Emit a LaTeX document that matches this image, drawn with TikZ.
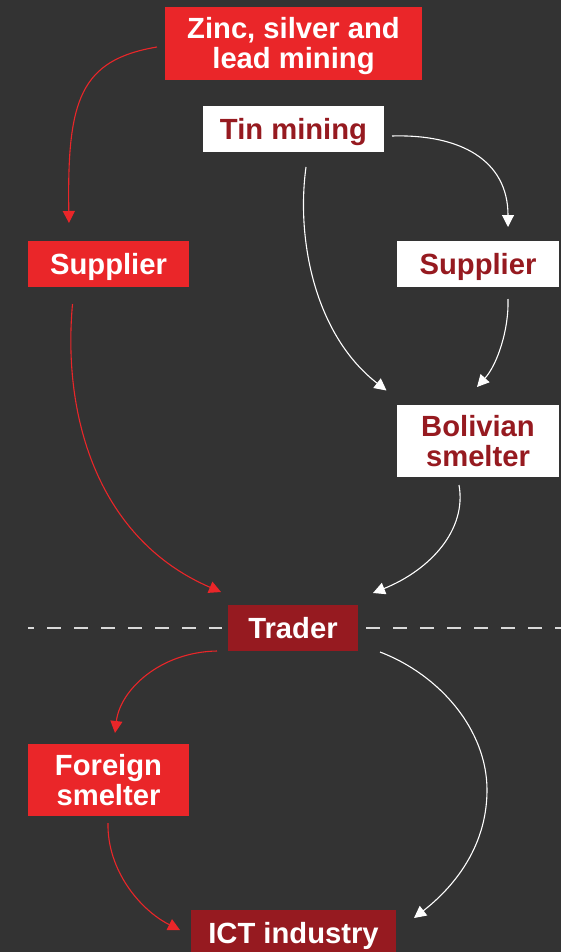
\documentclass[tikz,border=0pt]{standalone}
\usepackage{fontspec}
\setmainfont{Liberation Sans}
\usetikzlibrary{arrows.meta,calc}
\definecolor{bg}{RGB}{51,51,51}
\definecolor{bred}{RGB}{234,38,41}
\definecolor{dred}{RGB}{150,26,32}
\begin{document}
\begin{tikzpicture}[x=1pt,y=-1pt,
  box/.style={inner sep=0pt,outer sep=0pt,align=center,
    font=\bfseries\fontsize{29.2}{29.5}\selectfont,
    text height=21pt,text depth=0pt},
  twol/.style={text height=50.5pt},
  redbox/.style={box,fill=bred,text=white},
  darkbox/.style={box,fill=dred,text=white},
  whitebox/.style={box,fill=white,text=dred},
  conn/.style={line width=1.1pt,-{Triangle[length=12pt,width=12pt]}},
  redconn/.style={conn,draw=bred},
  whconn/.style={conn,draw=white},
]
\useasboundingbox (0,0) rectangle (560,952);
\fill[bg] (-10,-10) rectangle (570,962);

\node[redbox,twol,minimum width=257pt,minimum height=73pt] (zinc) at (293.5,43.5)
  {\begin{tabular}[b]{@{}c@{}}Zinc, silver and\\lead mining\end{tabular}};
\node[whitebox,minimum width=181pt,minimum height=46pt] (tin) at (293.5,129) {Tin mining};
\node[redbox,minimum width=161pt,minimum height=46pt] (sup1) at (108.5,264) {Supplier};
\node[whitebox,minimum width=162pt,minimum height=46pt] (sup2) at (478,264) {Supplier};
\node[whitebox,twol,minimum width=162pt,minimum height=72pt] (bol) at (478,441)
  {\begin{tabular}[b]{@{}c@{}}Bolivian\\smelter\end{tabular}};
\node[darkbox,minimum width=130pt,minimum height=46pt] (trader) at (293,628) {Trader};
\node[redbox,twol,minimum width=161pt,minimum height=72pt] (foreign) at (108.5,780)
  {\begin{tabular}[b]{@{}c@{}}Foreign\\smelter\end{tabular}};
\node[darkbox,minimum width=205pt,minimum height=46pt] (ict) at (293.5,933) {ICT industry};

% dashed border line
\coordinate (dl) at (28,628);
\coordinate (dr) at (562,628);
\draw[white!85!black,line width=1.1pt,dash pattern=on 14pt off 13pt,dash phase=8pt]
  (dl) -- ($(trader.west)+(-6,0)$);
\draw[white!85!black,line width=1.1pt,dash pattern=on 14pt off 13pt]
  ($(trader.east)+(8,0)$) -- (dr);

% connectors
\draw[redconn] ($(zinc.west)+(-8,3.5)$) .. controls (80,60) and (67,100) .. ($(sup1.north)+(-39.5,-18)$);
\draw[whconn] ($(tin.east)+(8,7)$) .. controls (460,134) and (508,160) .. ($(sup2.north)+(30,-14)$);
\draw[whconn] ($(tin.south)+(12.5,15)$) .. controls (296,240) and (315,335) .. ($(bol.north)+(-91.5,-14.5)$);
\draw[whconn] ($(sup2.south)+(30,12)$) .. controls (509,330) and (497,365) .. ($(bol.north)+(-1,-18)$);
\draw[redconn] ($(sup1.south)+(-36,17)$) .. controls (62,420) and (100,540) .. ($(trader.north)+(-72,-13)$);
\draw[whconn] ($(bol.south)+(-19,8)$) .. controls (467,530) and (430,570) .. ($(trader.north)+(80,-12)$);
\draw[redconn] ($(trader.west)+(-11,23)$) .. controls (160,652) and (120,690) .. ($(foreign.north)+(6.5,-11)$);
\draw[whconn] ($(trader.east)+(22,24)$) .. controls (440,675) and (487,730) .. (487,790)
  .. controls (487,850) and (450,890) .. ($(ict.north east)+(18,8)$);
\draw[redconn] ($(foreign.south)+(-0.5,7)$) .. controls (107,870) and (140,910) .. ($(ict.west)+(-11,-3)$);
\end{tikzpicture}
\end{document}
